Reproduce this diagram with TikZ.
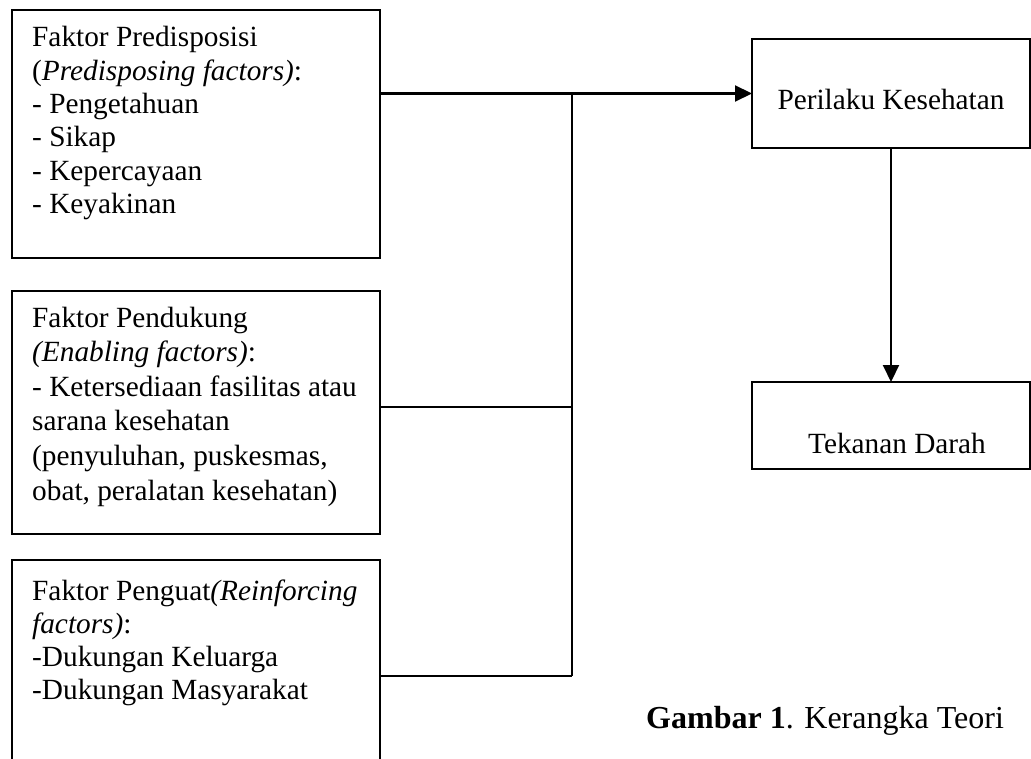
\documentclass[tikz,border=0pt]{standalone}
\usepackage{fontspec}
\setmainfont{Liberation Serif}
\usetikzlibrary{arrows.meta}
\newcommand{\txtlines}[1]{\begin{tabular}[t]{@{}l@{}}#1\end{tabular}}
\begin{document}
\begin{tikzpicture}[x=1pt,y=-1pt,
  boxnode/.style={draw, line width=2.1pt, inner sep=0pt, outer sep=0pt, anchor=north west},
  txt/.style={inner sep=0pt, anchor=base west, font=\fontsize{29.3}{33.3}\selectfont},
  txtc/.style={inner sep=0pt, anchor=base, font=\fontsize{29.3}{33.3}\selectfont},
  conn/.style={line width=2.1pt},
  arr/.style={conn, -{Triangle[length=17pt,width=16pt]}}]
\useasboundingbox (0,0) rectangle (1031,759);
% boxes
\node[boxnode, minimum width=368pt, minimum height=248pt] (b1) at (12,10) {};
\node[boxnode, minimum width=368pt, minimum height=243pt] (b2) at (12,291) {};
\node[boxnode, minimum width=368pt, minimum height=204pt] (b3) at (12,560) {};
\node[boxnode, minimum width=278pt, minimum height=109pt] (b4) at (752,39) {};
\node[boxnode, minimum width=278pt, minimum height=87pt] (b5) at (752,382) {};
% texts
\node[txt] (t1) at (32,47) {\txtlines{Faktor Predisposisi\\(\textit{Predisposing factors)}:\\- Pengetahuan\\- Sikap\\- Kepercayaan\\- Keyakinan}};
\node[txt, font=\fontsize{29.3}{34.6}\selectfont] (t2) at (32,327) {\txtlines{Faktor Pendukung\\\textit{(Enabling factors)}:\\- Ketersediaan fasilitas atau\\sarana kesehatan\\(penyuluhan, puskesmas,\\obat, peralatan kesehatan)}};
\node[txt] (t3) at (32,600) {\txtlines{Faktor Penguat\textit{(Reinforcing}\\\textit{factors)}:\\-Dukungan Keluarga\\-Dukungan Masyarakat}};
\node[txtc] (t4) at (891,110) {Perilaku Kesehatan};
\node[txtc] (t5) at (897,453) {Tekanan Darah};
\node[inner sep=0pt, anchor=base west, font=\fontsize{32}{36}\selectfont] (cap) at (646,728) {\textbf{Gambar 1}. Kerangka Teori};
% connectors
\coordinate (j1) at (572,93.5);
\coordinate (j2) at (572,407);
\coordinate (j3) at (572,676);
\draw[conn] (b1.east |- j1) -- (j1);
\draw[arr] (j1) -- (b4.west);
\draw[conn] (j1) -- (j3);
\draw[conn] (b2.east |- j2) -- (j2);
\draw[conn] (b3.east |- j3) -- (j3);
\draw[arr] (b4.south) -- (b5.north);
\end{tikzpicture}
\end{document}
